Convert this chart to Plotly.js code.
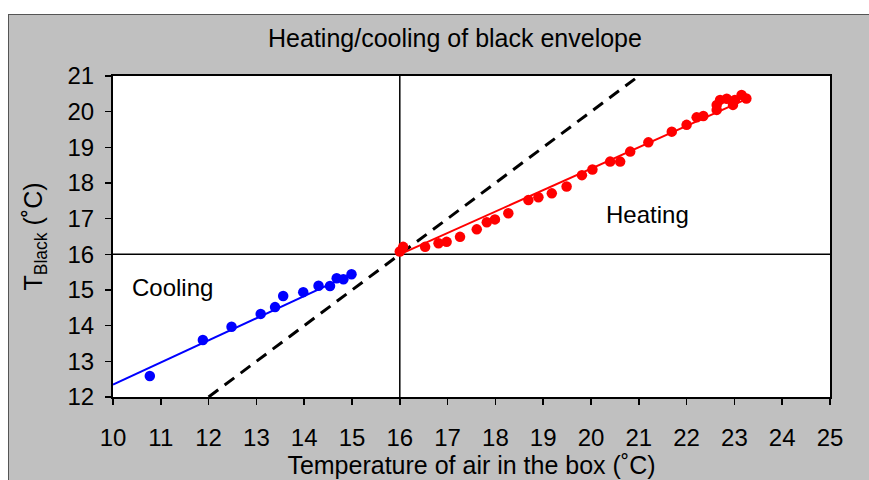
<!DOCTYPE html>
<html>
<head>
<meta charset="utf-8">
<script src="https://cdn.plot.ly/plotly-3.0.1.min.js"></script>
<style>
  html, body { margin: 0; padding: 0; background: #ffffff; width: 869px; height: 480px; overflow: hidden; }
  #frame { position: absolute; left: 8px; top: 14px; width: 870px; height: 480px; background: #c0c0c0;
           border-left: 1.5px solid #555; border-top: 1.5px solid #555; }
  #chart { position: absolute; left: 0; top: 0; width: 869px; height: 480px; }
</style>
</head>
<body>
<div id="frame"></div>
<div id="chart"></div>
<script>
// Cooling measurements (blue)
const coolX = [10.77, 11.88, 12.48, 13.09, 13.39, 13.56, 13.98, 14.30, 14.54, 14.68, 14.82, 14.99];
const coolY = [12.59, 13.60, 13.97, 14.33, 14.52, 14.83, 14.94, 15.12, 15.11, 15.33, 15.30, 15.44];
// Cooling fit line
const coolFitX = [10.0, 15.0];
const coolFitY = [12.35, 15.45];

// Heating measurements (red)
const heatX = [16.00, 16.07, 16.53, 16.81, 16.98, 17.26, 17.61, 17.82, 17.99, 18.27, 18.69, 18.90, 19.18, 19.49,
               19.81, 20.03, 20.40, 20.61, 20.82, 21.20, 21.69, 22.00, 22.21, 22.35, 22.63, 22.63, 22.70, 22.84,
               22.97, 23.01, 23.15, 23.25];
const heatY = [16.08, 16.21, 16.21, 16.31, 16.35, 16.49, 16.70, 16.90, 16.98, 17.15, 17.52, 17.60, 17.71, 17.90,
               18.22, 18.38, 18.60, 18.60, 18.88, 19.14, 19.44, 19.63, 19.84, 19.88, 20.05, 20.19, 20.33, 20.36,
               20.19, 20.33, 20.47, 20.37];
// Heating fit line
const heatFitX = [16.0, 23.25];
const heatFitY = [16.0, 20.35];

// Equality line T_black = T_air
const eqX = [12, 21];
const eqY = [12, 21];

// Reference crosshair at 16 °C
const refX = 16;
const refY = 16;

const xTicks = [10, 11, 12, 13, 14, 15, 16, 17, 18, 19, 20, 21, 22, 23, 24, 25];
const yTicks = [12, 13, 14, 15, 16, 17, 18, 19, 20, 21];

const fontFam = 'Liberation Sans, Arial, sans-serif';

const traces = [
  { x: eqX, y: eqY, mode: 'lines', line: { color: '#000000', width: 3, dash: '12px,8px' }, hoverinfo: 'skip' },
  { x: coolFitX, y: coolFitY, mode: 'lines', line: { color: '#0000ff', width: 2 } },
  { x: heatFitX, y: heatFitY, mode: 'lines', line: { color: '#ff0000', width: 2 } },
  { x: coolX, y: coolY, mode: 'markers', marker: { color: '#0000ff', size: 10.5 } },
  { x: heatX, y: heatY, mode: 'markers', marker: { color: '#ff0000', size: 10.5 } }
];

const axisCommon = {
  showgrid: false, zeroline: false,
  showline: true, linecolor: '#000000', linewidth: 2, mirror: true,
  ticks: 'outside', ticklen: 6, tickwidth: 1.5, tickcolor: '#000000',
  tickfont: { family: fontFam, size: 24, color: '#000000' }
};

const layout = {
  width: 869, height: 480,
  paper_bgcolor: 'rgba(0,0,0,0)',
  plot_bgcolor: '#ffffff',
  showlegend: false,
  margin: { l: 113, r: 39, t: 76, b: 83 },
  title: {
    text: 'Heating/cooling of black envelope',
    font: { family: fontFam, size: 25, color: '#000000' },
    x: 455 / 869, xanchor: 'center', xref: 'container',
    y: 1 - 38 / 480, yanchor: 'middle', yref: 'container'
  },
  xaxis: Object.assign({}, axisCommon, {
    range: [10, 25], tickvals: xTicks, ticktext: xTicks.map(String),
    ticklabelstandoff: 12,
    title: { text: 'Temperature of air in the box (˚C)', font: { family: fontFam, size: 25, color: '#000000' }, standoff: 3 }
  }),
  yaxis: Object.assign({}, axisCommon, {
    range: [12, 21], tickvals: yTicks, ticktext: yTicks.map(String),
    ticklabelstandoff: 6,
    title: { text: 'T<sub>Black</sub> (˚C)', font: { family: fontFam, size: 25, color: '#000000' }, standoff: 18 }
  }),
  shapes: [
    { type: 'line', xref: 'x', yref: 'y', x0: refX, x1: refX, y0: 12, y1: 21, line: { color: '#000000', width: 1.5 }, layer: 'below' },
    { type: 'line', xref: 'x', yref: 'y', x0: 10, x1: 25, y0: refY, y1: refY, line: { color: '#000000', width: 1.5 }, layer: 'below' }
  ],
  annotations: [
    { x: 10.35, y: 15.06, xref: 'x', yref: 'y', text: 'Cooling', showarrow: false, xanchor: 'left', yanchor: 'middle',
      font: { family: fontFam, size: 24, color: '#000000' } },
    { x: 20.27, y: 17.13, xref: 'x', yref: 'y', text: 'Heating', showarrow: false, xanchor: 'left', yanchor: 'middle',
      font: { family: fontFam, size: 24, color: '#000000' } }
  ]
};

Plotly.newPlot('chart', traces, layout, { staticPlot: true, displayModeBar: false });
</script>
</body>
</html>
